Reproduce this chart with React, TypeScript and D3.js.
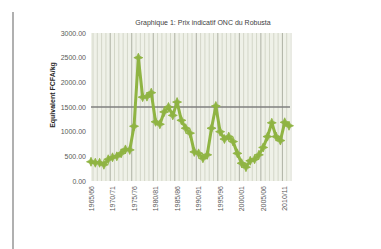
import React, { useEffect, useRef } from "react";
import * as d3 from "d3";

// campaigns 1965/66 .. 2011/12
const seasons: string[] = d3.range(1965, 2012).map(
  (y) => `${y}/${String((y + 1) % 100).padStart(2, "0")}`
);

// prix indicatif ONC (FCFA/kg)
const prices: number[] = [
  390, 370, 370, 330, 440, 480, 500, 560, 640, 630,
  1110, 2500, 1700, 1710, 1790, 1200, 1150, 1400, 1500, 1330,
  1600, 1230, 1070, 970, 590, 560, 460, 530, 1070, 1520,
  1000, 850, 900, 800, 560, 360, 280, 410, 440, 530,
  680, 900, 1180, 900, 820, 1190, 1120,
];

const yTicks: number[] = [0, 500, 1000, 1500, 2000, 2500, 3000];
const refLine = 1500;
const titleText = "Graphique 1: Prix indicatif ONC du Robusta";
const yTitle = "Equivalent FCFA/kg";

function drawChart(node: SVGSVGElement) {
  const svg = d3.select(node);
  svg.selectAll("*").remove();

  const left = 91;
  const right = 290;
  const top = 33;
  const bottom = 181;
  const font = "Liberation Sans, Arial, sans-serif";

  // page border on the left
  svg
    .append("line")
    .attr("x1", 13)
    .attr("x2", 13)
    .attr("y1", 12)
    .attr("y2", 249)
    .style("stroke", "#b0b0b0")
    .style("stroke-width", 2);

  const x = d3.scalePoint<string>().domain(seasons).range([left, right - 1]);
  const y = d3.scaleLinear().domain([0, 3000]).range([bottom, top]);

  // plot area background
  svg
    .append("rect")
    .attr("x", left)
    .attr("y", top)
    .attr("width", right - left)
    .attr("height", bottom - top)
    .style("fill", "#eff1e8");

  // vertical gridlines, one per campaign
  svg
    .append("g")
    .selectAll("line")
    .data(seasons)
    .enter()
    .append("line")
    .attr("x1", (d) => (x(d) as number) + 2)
    .attr("x2", (d) => (x(d) as number) + 2)
    .attr("y1", top)
    .attr("y2", bottom)
    .style("stroke", (d, i) => (i % 5 === 4 ? "#aeb1a4" : "#d3d6c8"))
    .style("stroke-width", 1);

  // reference line at 1500
  svg
    .append("line")
    .attr("x1", left)
    .attr("x2", right)
    .attr("y1", y(refLine))
    .attr("y2", y(refLine))
    .style("stroke", "#7f7f7f")
    .style("stroke-width", 1.5);

  // y axis labels
  svg
    .append("g")
    .selectAll("text")
    .data(yTicks)
    .enter()
    .append("text")
    .attr("x", left - 5)
    .attr("y", (d) => y(d) + 2.5)
    .attr("text-anchor", "end")
    .style("font-family", font)
    .style("font-size", "7px")
    .style("fill", "#595959")
    .text((d) => d3.format(".2f")(d));

  // x axis labels, every 5 campaigns
  svg
    .append("g")
    .selectAll("text")
    .data(seasons.filter((d, i) => i % 5 === 0))
    .enter()
    .append("text")
    .attr(
      "transform",
      (d) => `translate(${(x(d) as number) + 2.5},${bottom + 5}) rotate(-90)`
    )
    .attr("text-anchor", "end")
    .style("font-family", font)
    .style("font-size", "7px")
    .style("fill", "#595959")
    .text((d) => d);

  // title
  svg
    .append("text")
    .attr("x", 203)
    .attr("y", 25)
    .attr("text-anchor", "middle")
    .style("font-family", font)
    .style("font-size", "7px")
    .style("fill", "#404040")
    .text(titleText);

  // y title
  svg
    .append("text")
    .attr("transform", `translate(55,${(top + bottom) / 2 - 12}) rotate(-90)`)
    .attr("text-anchor", "middle")
    .style("font-family", font)
    .style("font-size", "7px")
    .style("font-weight", "bold")
    .style("fill", "#262626")
    .text(yTitle);

  // price line
  const line = d3
    .line<number>()
    .x((d, i) => x(seasons[i]) as number)
    .y((d) => y(d));

  svg
    .append("path")
    .datum(prices)
    .attr("d", line)
    .style("fill", "none")
    .style("stroke", "#8fb443")
    .style("stroke-width", 3)
    .style("stroke-linejoin", "round");

  // 4-point star markers
  const star = "M0,-4.5L1.4,-1.4L4.5,0L1.4,1.4L0,4.5L-1.4,1.4L-4.5,0L-1.4,-1.4Z";
  svg
    .append("g")
    .selectAll("path")
    .data(prices)
    .enter()
    .append("path")
    .attr("d", star)
    .attr("transform", (d, i) => `translate(${x(seasons[i])},${y(d)})`)
    .style("fill", "#8fb443")
    .style("stroke", "#8fb443")
    .style("stroke-width", 0.8);
}

const App = () => {
  const ref = useRef<SVGSVGElement>(null);
  useEffect(() => {
    if (ref.current) drawChart(ref.current);
  }, []);

  return (
    <svg
      ref={ref}
      width={381}
      height={249}
      style={{ position: "absolute", left: 0, top: 0, background: "#fff" }}
    />
  );
};

export default App;
